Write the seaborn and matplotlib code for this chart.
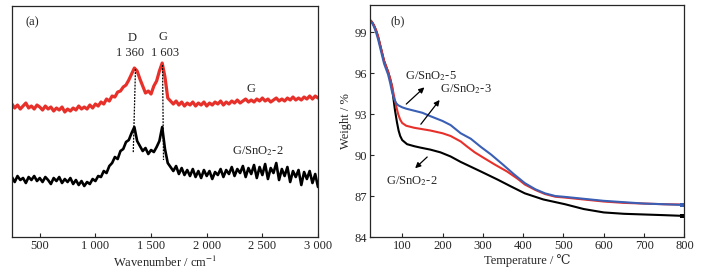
import numpy as np
import pandas as pd
import seaborn as sns
import matplotlib.pyplot as plt

# (a) Raman spectra, arbitrary intensity
wavenumber = np.arange(250, 3001, 25)
raman_g = [133, 129, 132, 128, 131, 134, 129, 131, 128, 132,
           130, 127, 131, 128, 130, 126, 129, 127, 130, 125,
           128, 126, 129, 127, 131, 128, 130, 128, 132, 129,
           133, 131, 135, 133, 138, 136, 141, 140, 145, 146,
           150, 152, 157, 163, 169, 166, 158, 151, 144, 146,
           143, 151, 156, 166, 174, 160, 139, 136, 133, 136,
           132, 135, 131, 134, 132, 135, 131, 134, 132, 135,
           131, 134, 132, 135, 133, 136, 132, 135, 133, 136,
           134, 137, 134, 136, 138, 135, 137, 135, 138, 136,
           139, 136, 138, 135, 137, 139, 136, 138, 136, 139,
           137, 140, 137, 139, 137, 140, 138, 141, 138, 141,
           139]
raman_gsno2 = [60, 55, 61, 57, 59, 54, 60, 57, 61, 56,
               59, 55, 60, 57, 53, 59, 56, 60, 54, 58,
               55, 59, 53, 57, 52, 56, 51, 55, 53, 58,
               56, 61, 60, 66, 64, 71, 74, 80, 78, 86,
               88, 95, 97, 104, 110, 96, 91, 86, 89, 83,
               87, 85, 90, 96, 110, 88, 74, 70, 66, 71,
               63, 69, 62, 67, 61, 68, 60, 66, 59, 67,
               61, 66, 58, 65, 62, 68, 60, 67, 63, 70,
               61, 68, 64, 71, 60, 69, 63, 72, 59, 70,
               62, 73, 58, 69, 64, 74, 57, 68, 61, 70,
               55, 66, 60, 67, 52, 65, 58, 66, 54, 63,
               50]

# (b) TGA curves
temp_5 = [20, 25, 30, 35, 40, 45, 50, 55, 60, 65, 70, 75, 80, 85, 90, 100, 110, 130,
          150, 170, 200, 220, 245, 270, 295, 320, 350, 377, 404, 430, 454, 480, 500,
          550, 600, 650, 700, 750, 795]
weight_5 = [99.85, 99.7, 99.4, 99.0, 98.5, 97.9, 97.3, 96.7, 96.3, 95.9, 95.3, 94.6,
            94.1, 93.8, 93.65, 93.5, 93.4, 93.25, 93.1, 92.85, 92.5, 92.2, 91.6, 91.2,
            90.6, 90.05, 89.3, 88.6, 87.95, 87.5, 87.2, 87.0, 86.95, 86.8, 86.65, 86.55,
            86.45, 86.4, 86.35]
temp_3 = [20, 25, 30, 35, 40, 45, 50, 55, 60, 65, 70, 75, 80, 85, 90, 95, 100, 110,
          130, 150, 170, 200, 220, 245, 262, 280, 302, 330, 360, 387, 404, 430, 454,
          480, 500, 550, 600, 650, 700, 750, 795]
weight_3 = [99.9, 99.75, 99.5, 99.15, 98.7, 98.1, 97.5, 96.9, 96.5, 96.1, 95.6, 95.0,
            94.3, 93.6, 93.0, 92.6, 92.35, 92.15, 92.0, 91.9, 91.8, 91.6, 91.4, 91.0,
            90.6, 90.2, 89.8, 89.3, 88.8, 88.25, 87.85, 87.45, 87.15, 86.95, 86.9,
            86.75, 86.6, 86.5, 86.45, 86.4, 86.38]
temp_2 = [20, 25, 30, 35, 40, 45, 50, 55, 60, 65, 70, 75, 78, 82, 87, 91, 95, 100,
          112, 130, 145, 170, 195, 220, 245, 270, 295, 337, 370, 404, 450, 504, 550,
          600, 650, 700, 750, 795]
weight_2 = [99.9, 99.75, 99.5, 99.15, 98.7, 98.1, 97.5, 96.9, 96.5, 96.1, 95.6, 95.0,
            94.2, 93.3, 92.4, 91.8, 91.4, 91.1, 90.8, 90.65, 90.55, 90.4, 90.2, 89.9,
            89.5, 89.15, 88.8, 88.2, 87.7, 87.2, 86.75, 86.4, 86.05, 85.8, 85.7, 85.65,
            85.6, 85.55]

RED = "#e8302a"
BLUE = "#3a5fb4"

sns.set_style("ticks")
plt.rcParams['font.family'] = ['Liberation Serif', 'DejaVu Serif']
plt.rcParams['mathtext.fontset'] = 'stix'
plt.rcParams['xtick.direction'] = 'in'
plt.rcParams['ytick.direction'] = 'in'

fig = plt.figure(figsize=(7.02, 2.74), dpi=100)
ax1 = fig.add_axes([0.017, 0.135, 0.436, 0.843])
ax2 = fig.add_axes([0.527, 0.135, 0.448, 0.847])

# ---- (a) Raman
sns.lineplot(x=wavenumber, y=raman_g, color=RED, lw=2.3, ax=ax1)
sns.lineplot(x=wavenumber, y=raman_gsno2, color="black", lw=1.9, ax=ax1)
ax1.plot([1360, 1340], [168, 84], ls=(0, (1.5, 1)), color="black", lw=0.9)
ax1.plot([1603, 1612], [172, 77], ls=(0, (1.5, 1)), color="black", lw=0.9)
ax1.set_xlim(250, 3000)
ax1.set_ylim(0, 231)
ax1.set_yticks([])
ax1.set_xticks([500, 1000, 1500, 2000, 2500, 3000])
ax1.set_xticklabels(["500", "1 000", "1 500", "2 000", "2 500", "3 000"])
ax1.set_xlabel("Wavenumber / cm$^{-1}$", fontsize=9, labelpad=2)
ax1.text(430, 215, "(a)", fontsize=9, ha="center", va="center")
ax1.text(1330, 199, "D", fontsize=9, ha="center", va="center")
ax1.text(1312, 184, "1 360", fontsize=9, ha="center", va="center")
ax1.text(1610, 200, "G", fontsize=9, ha="center", va="center")
ax1.text(1628, 184, "1 603", fontsize=9, ha="center", va="center")
ax1.text(2395, 148, "G", fontsize=9, ha="center", va="center")
ax1.text(2458, 86, "G/SnO$_2$-2", fontsize=9, ha="center", va="center")

# ---- (b) TGA
end = dict(marker="s", markevery=[-1], markersize=2.5, markeredgewidth=0)
sns.lineplot(x=temp_2, y=weight_2, color="black", lw=1.5, sort=False, ax=ax2, **end)
sns.lineplot(x=temp_3, y=weight_3, color=RED, lw=1.5, sort=False, ax=ax2, **end)
sns.lineplot(x=temp_5, y=weight_5, color=BLUE, lw=1.5, sort=False, ax=ax2, **end)
ax2.set_xlim(20, 800)
ax2.set_ylim(84, 101)
ax2.set_xticks(range(100, 801, 100))
ax2.set_yticks([84, 87, 90, 93, 96, 99])
ax2.set_xlabel("Temperature / ℃", fontsize=9, labelpad=2)
ax2.set_ylabel("Weight / %", fontsize=9, labelpad=2)
ax2.text(90, 99.8, "(b)", fontsize=9, ha="center", va="center")

arrow = dict(arrowstyle="-|>", color="black", lw=0.9, mutation_scale=8)
ax2.annotate("", xy=(160, 95.1), xytext=(105, 93.6), arrowprops=arrow)
ax2.text(170, 95.8, "G/SnO$_2$-5", fontsize=9, ha="center", va="center")
ax2.annotate("", xy=(197, 94.2), xytext=(142, 92.1), arrowprops=arrow)
ax2.text(257, 94.8, "G/SnO$_2$-3", fontsize=9, ha="center", va="center")
ax2.annotate("", xy=(127, 88.9), xytext=(167, 90.0), arrowprops=arrow)
ax2.text(125, 88.1, "G/SnO$_2$-2", fontsize=9, ha="center", va="center")

for ax in (ax1, ax2):
    ax.tick_params(labelsize=9, length=3, width=0.8, pad=2)
    for s in ax.spines.values():
        s.set_linewidth(0.9)

fig.savefig("out.png", dpi=100)
